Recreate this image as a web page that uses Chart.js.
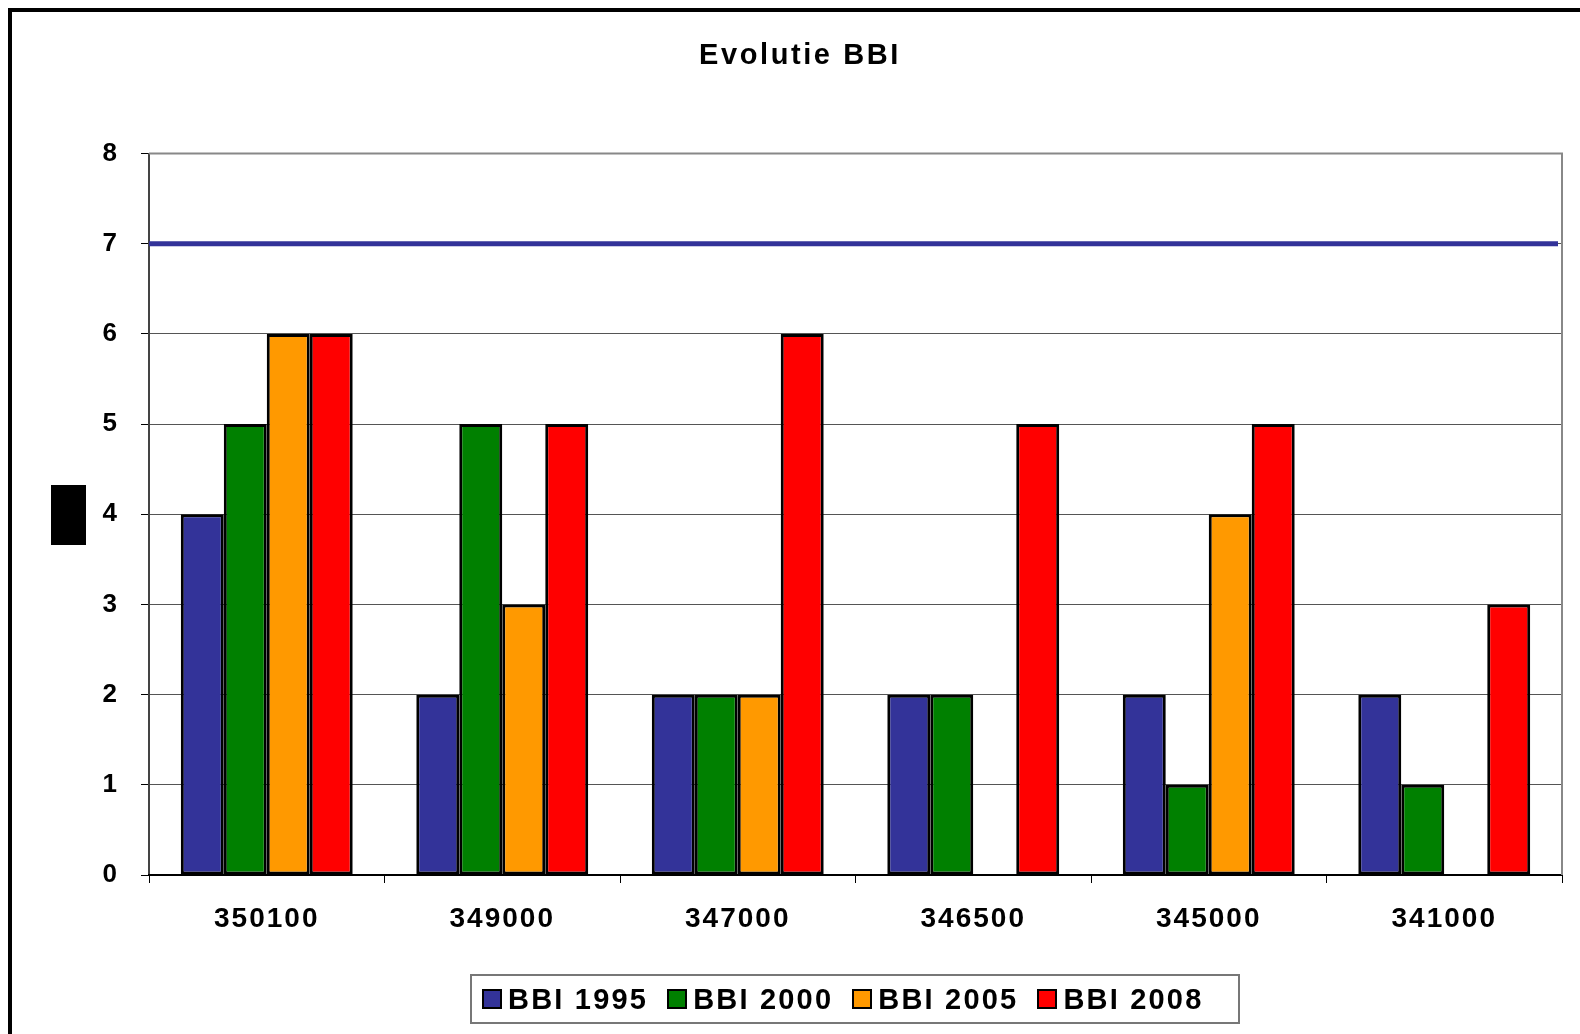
<!DOCTYPE html>
<html>
<head>
<meta charset="utf-8">
<title>Evolutie BBI</title>
<script src="https://cdn.jsdelivr.net/npm/chart.js@4.4.1/dist/chart.umd.min.js"></script>
<style>
    html, body { margin: 0; padding: 0; background: #fff; overflow: hidden; }
    body { width: 1580px; height: 1034px; position: relative; font-family: 'Liberation Sans', Arial, sans-serif; }
    #frame { position: absolute; left: 8px; top: 8px; width: 1700px; height: 1200px; border: 4px solid #000; box-sizing: border-box; }
    #wrap { position: absolute; left: 0; top: 0; width: 1580px; height: 1034px; }
    #title { position: absolute; left: 600px; width: 400px; top: 36px; text-align: center; font-weight: bold;
             font-size: 29px; letter-spacing: 2.6px; line-height: 36px; color: #000; }
    #axis-box { position: absolute; left: 51px; top: 485px; width: 35px; height: 60px; background: #000; }
    #legend { position: absolute; left: 470px; top: 974px; width: 770px; height: 50px; box-sizing: border-box;
              border: 2px solid #777; display: flex; align-items: center; padding-left: 10px; white-space: nowrap; }
    .lg-item { display: flex; align-items: center; margin-right: 19px; flex-shrink: 0; }
    .lg-box { width: 20px; height: 20px; box-sizing: border-box; border: 2px solid #000; margin-right: 6px; flex-shrink: 0; }
    .lg-text { font-weight: bold; font-size: 29px; letter-spacing: 2.2px; color: #000; line-height: 1; white-space: nowrap; }
</style>
</head>
<body>
<div id="frame"></div>
<div id="wrap"><canvas id="bbi-chart" width="1580" height="1034"></canvas></div>
<div id="title">Evolutie BBI</div>
<div id="axis-box"></div>
<div id="legend"></div>

<script>
// ---- Data ---------------------------------------------------------------
const CATEGORIES = ['350100', '349000', '347000', '346500', '345000', '341000'];
const SERIES_LABELS = ['BBI 1995', 'BBI 2000', 'BBI 2005', 'BBI 2008'];
const BBI_1995 = [4, 2, 2, 2, 2, 2];
const BBI_2000 = [5, 5, 2, 2, 1, 1];
const BBI_2005 = [6, 3, 2, null, 4, null];
const BBI_2008 = [6, 5, 6, 5, 5, 3];
const Y_MIN = 0;
const Y_MAX = 8;
const Y_STEP = 1;
const TARGET_BBI = 7;

// ---- Styles -------------------------------------------------------------
const SERIES_COLORS = ['#333399', '#008000', '#FF9900', '#FF0000'];
const FONT = "'Liberation Sans', Arial, sans-serif";

// letter spacing on axis labels (Chart.js has no option for it)
const spacingPlugin = {
    id: 'spacing',
    beforeUpdate: chart => { chart.ctx.letterSpacing = '2px'; },
    beforeDraw: chart => { chart.ctx.letterSpacing = '2px'; },
};

// plot frame + target line at BBI 7
const framePlugin = {
    id: 'frame',
    afterDatasetsDraw(chart) {
        const { ctx, chartArea: a, scales: { y } } = chart;
        ctx.save();
        ctx.strokeStyle = '#888';
        ctx.lineWidth = 2;
        ctx.beginPath();
        ctx.moveTo(a.left, a.top);
        ctx.lineTo(a.right, a.top);
        ctx.lineTo(a.right, a.bottom);
        ctx.stroke();

        const ty = y.getPixelForValue(TARGET_BBI);
        ctx.strokeStyle = '#333399';
        ctx.lineWidth = 5;
        ctx.beginPath();
        ctx.moveTo(a.left, ty);
        ctx.lineTo(a.right - 4, ty);
        ctx.stroke();
        ctx.restore();
    }
};

const seriesData = [BBI_1995, BBI_2000, BBI_2005, BBI_2008];

const ctx = document.getElementById('bbi-chart').getContext('2d');
new Chart(ctx, {
    type: 'bar',
    data: {
        labels: CATEGORIES,
        datasets: SERIES_LABELS.map((label, i) => ({
            label,
            data: seriesData[i],
            backgroundColor: SERIES_COLORS[i],
            borderColor: '#000',
            borderWidth: 3,
            borderSkipped: false,
            categoryPercentage: 0.73,
            barPercentage: 1.0,
        }))
    },
    options: {
        responsive: false,
        animation: false,
        layout: { padding: { left: 0, right: 18, top: 153.5, bottom: 79 } },
        plugins: {
            legend: { display: false },
            tooltip: { enabled: false },
            title: { display: false },
        },
        scales: {
            y: {
                min: Y_MIN,
                max: Y_MAX,
                ticks: { stepSize: Y_STEP, color: '#000', padding: 22, font: { family: FONT, size: 26, weight: 'bold' } },
                grid: { color: '#555', lineWidth: 1, tickLength: 8, tickColor: '#000' },
                border: { color: '#444', width: 2 },
                afterFit: s => { s.width = 149; },
            },
            x: {
                ticks: { color: '#000', padding: 19, font: { family: FONT, size: 28, weight: 'bold' } },
                grid: { drawOnChartArea: false, tickLength: 8, color: '#000', offset: true },
                border: { color: '#000', width: 2 },
                afterFit: s => { s.height = 80; },
            }
        }
    },
    plugins: [spacingPlugin, framePlugin]
});

// ---- Legend -------------------------------------------------------------
const legend = document.getElementById('legend');
SERIES_LABELS.forEach((label, i) => {
    const item = document.createElement('div');
    item.className = 'lg-item';
    item.innerHTML = `<div class="lg-box" style="background:${SERIES_COLORS[i]}"></div><span class="lg-text">${label}</span>`;
    legend.appendChild(item);
});
</script>
</body>
</html>
